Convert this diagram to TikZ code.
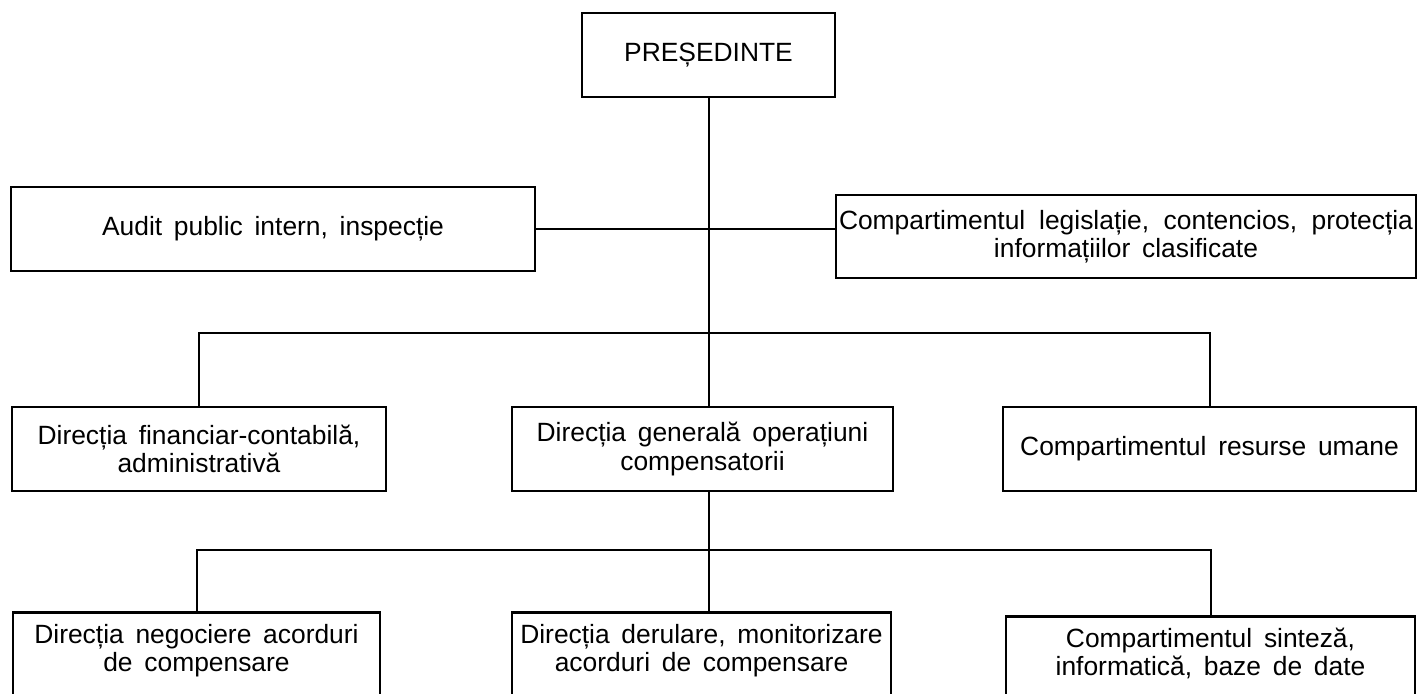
\documentclass[tikz,border=0pt]{standalone}
\usepackage{fontspec}
\setmainfont{Liberation Sans}[WordSpace={1.6}]
\begin{document}
\begin{tikzpicture}[x=0.5pt,y=-0.5pt,
  box/.style={draw=black,line width=1.25pt,inner sep=0pt,align=center,
    font=\fontsize{13.2}{14.1}\selectfont},
  lowbox/.style={box,anchor=north,inner ysep=6pt,text depth=20pt},
  link/.style={draw=black,line width=1pt}]
\useasboundingbox (0,0) rectangle (1421,693);
\clip (0,0) rectangle (1421,693);
\fill[white] (0,0) rectangle (1421,693);

\node[box,minimum width=126.5pt,minimum height=42pt] (pres) at (708.5,55) {PREȘEDINTE};
\node[box,minimum width=262pt,minimum height=42pt] (audit) at (273,229) {Audit public intern, inspecție};
\node[box,minimum width=290pt,minimum height=41.5pt] (legis) at (1126,236.5)
  {\makebox[287pt][s]{Compartimentul legislație, contencios, protecția}\\informațiilor clasificate};

\node[box,minimum width=187pt,minimum height=42pt] (fin) at (199,449) {Direcția financiar-contabilă,\\administrativă};
\node[box,minimum width=190.5pt,minimum height=42pt] (gen) at (702.5,449) {Direcția generală operațiuni\\compensatorii};
\node[box,minimum width=206.5pt,minimum height=42pt] (hr) at (1209.5,449) {Compartimentul resurse umane};

\node[lowbox,minimum width=183.5pt] (neg) at (196.5,611) {Direcția negociere acorduri\\de compensare};
\node[lowbox,minimum width=189.5pt] (der) at (701.5,611) {Direcția derulare, monitorizare\\acorduri de compensare};
\node[lowbox,minimum width=204.5pt] (sin) at (1210.5,615) {Compartimentul sinteză,\\informatică, baze de date};

\coordinate (b1) at (708.5,333);
\coordinate (b2) at (708.5,550);

\draw[link] (pres.south) -- (b1);
\draw[link] (b1) -- (b1 |- gen.north);
\draw[link] (audit.east) -- (audit.east -| legis.west);
\draw[link] (fin.north) |- (b1) -| (hr.north);

\draw[link] (gen.south -| b2) -- (b2);
\draw[link] (neg.north) |- (b2) -| (sin.north);
\draw[link] (b2) -- (b2 |- der.north);
\end{tikzpicture}
\end{document}
